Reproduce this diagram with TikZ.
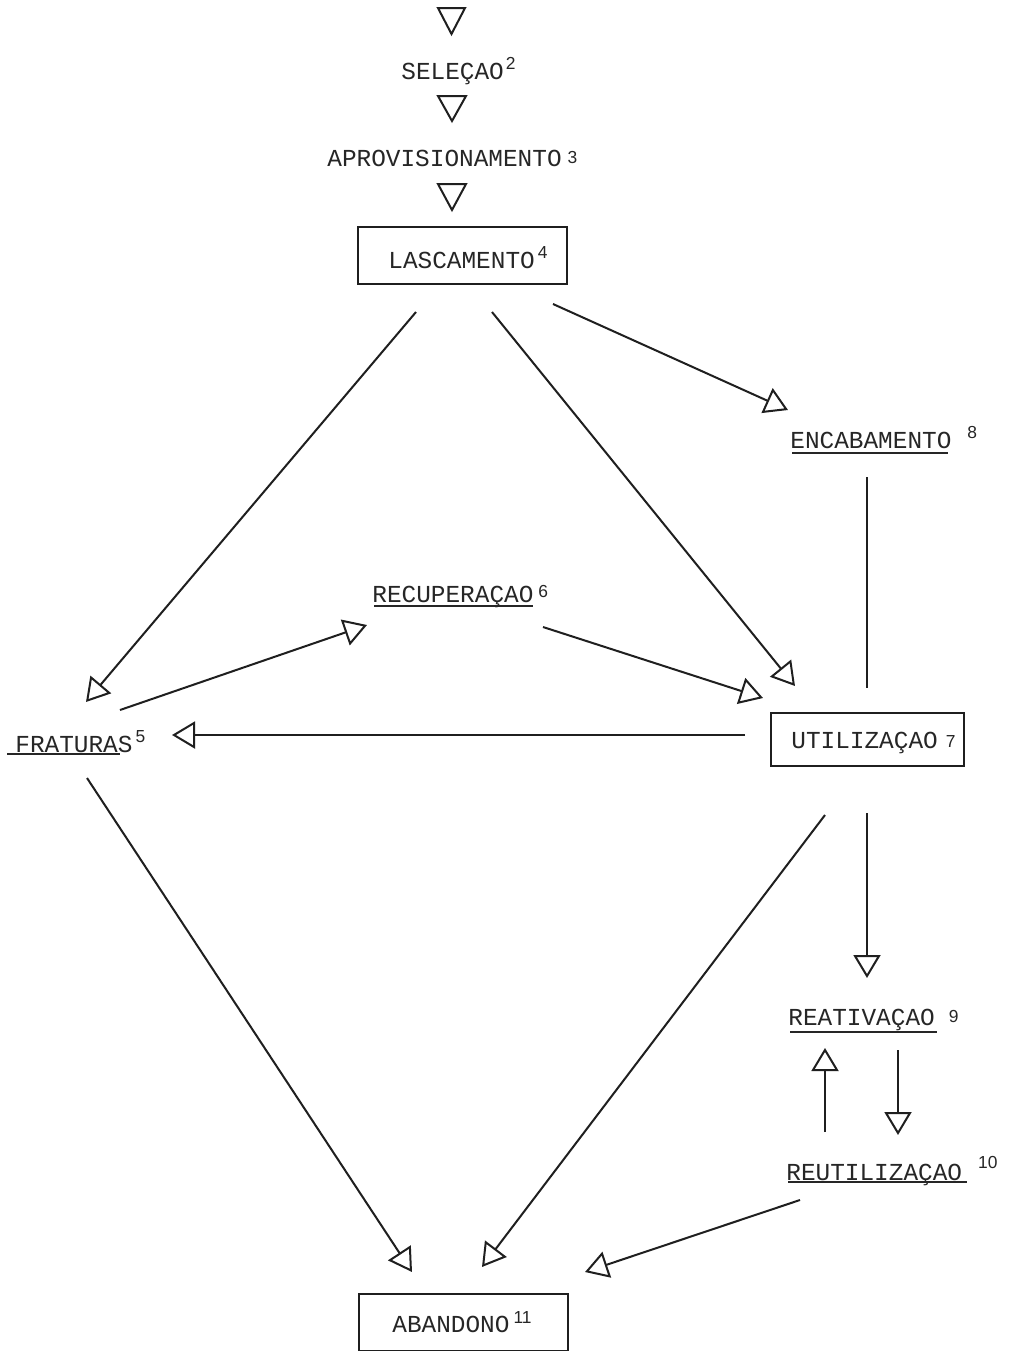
\documentclass[tikz,border=0pt]{standalone}
\usepackage{fontspec}
\setmonofont{Liberation Mono}
\newfontfamily\supfont{Liberation Sans}
\usetikzlibrary{arrows.meta,calc}
\newcommand\mysup[3]{\hspace*{#1pt}\raisebox{#2pt}{\supfont\fontsize{8.7}{9}\selectfont #3}}
\begin{document}
\begin{tikzpicture}[x=0.5pt,y=-0.5pt,
  ink/.style={draw=black!88,line width=1pt},
  lbl/.style={inner sep=0pt,anchor=base west,text=black!85,font=\ttfamily\fontsize{12.2}{14}\selectfont},
  boxn/.style={ink,rectangle,inner sep=0pt,anchor=north west},
  conn/.style={ink,-{Triangle[open,length=11.5pt,width=13.5pt,line width=1pt]}},
  plain/.style={ink},
  uline/.style={draw=black!85,line width=1.1pt},
  tri/.style={ink,line join=miter}]
\useasboundingbox[fill=white] (0,0) rectangle (1012,1351);

% shaftless triangles at top
\draw[tri] (438,8) -- (465,8) -- (451.5,34) -- cycle;
\draw[tri] (438,96) -- (466,96) -- (452,121) -- cycle;
\draw[tri] (438,184) -- (466,184) -- (452,210) -- cycle;

% boxes
\node[boxn,minimum width=104.5pt,minimum height=28.5pt] (lasbox) at (357,226) {};
\node[boxn,minimum width=96.5pt,minimum height=26.5pt] (utibox) at (770,712) {};
\node[boxn,minimum width=104.5pt,minimum height=28.5pt] (ababox) at (358,1293) {};

% labels
\node[lbl] (sel) at (401,79) {SELEÇAO\mysup{1}{5}{2}};
\node[lbl] (apr) at (327,166) {APROVISIONAMENTO\mysup{3}{1.5}{3}};
\node[lbl] (las) at (388,268) {LASCAMENTO\mysup{1.5}{5}{4}};
\node[lbl] (enc) at (790,448) {ENCABAMENTO\mysup{8}{5}{8}};
\node[lbl] (rec) at (372,602) {RECUPERAÇAO\mysup{2.5}{2.5}{6}};
\node[lbl] (fra) at (15,752) {FRATURAS\mysup{1.5}{5}{5}};
\node[lbl] (uti) at (791,748) {UTILIZAÇAO\mysup{4}{0.5}{7}};
\node[lbl] (rea) at (788,1025) {REATIVAÇAO\mysup{7}{1.5}{9}};
\node[lbl] (reu) at (786,1180) {REUTILIZAÇAO\mysup{8}{6}{10}};
\node[lbl] (aba) at (392,1332) {ABANDONO\mysup{2}{4.5}{11}};

% underlines
\draw[uline] ($(enc.base west)+(2,5)$) -- ++(156,0);
\draw[uline] ($(rec.base west)+(2,4)$) -- ++(159,0);
\draw[uline] ($(fra.base west)+(-8,2)$) -- ++(113,0);
\draw[uline] ($(rea.base west)+(2,7)$) -- ++(147,0);
\draw[uline] ($(reu.base west)+(2,2)$) -- ++(179,0);

% connector end points
\coordinate (lasA) at (416,312);
\coordinate (lasB) at (492,312);
\coordinate (lasC) at (553,304);
\coordinate (fraIn) at (86,702);
\coordinate (utiInA) at (795,686);
\coordinate (encIn) at (788,410);
\coordinate (encOut) at (867,477);
\coordinate (utiInV) at (867,688);
\coordinate (utiOutV) at (867,813);
\coordinate (reaIn) at (867,978);
\coordinate (fraOutR) at (120,710);
\coordinate (recIn) at (367,625);
\coordinate (utiOutL) at (745,735);
\coordinate (fraInR) at (172,735);
\coordinate (recOut) at (543,627);
\coordinate (utiInB) at (763,698);
\coordinate (fraOutD) at (87,778);
\coordinate (abaInL) at (412,1272);
\coordinate (utiOutD) at (825,815);
\coordinate (abaInM) at (482,1267);
\coordinate (reuOut) at (800,1200);
\coordinate (abaInR) at (585,1272);
\coordinate (reuUp) at (825,1132);
\coordinate (reaUpIn) at (825,1048);
\coordinate (reaDown) at (898,1050);
\coordinate (reuIn) at (898,1135);

% connectors
\draw[conn] (lasA) -- (fraIn);
\draw[conn] (lasB) -- (utiInA);
\draw[conn] (lasC) -- (encIn);
\draw[plain] (encOut) -- (utiInV);
\draw[conn] (utiOutV) -- (reaIn);
\draw[conn] (fraOutR) -- (recIn);
\draw[conn] (utiOutL) -- (fraInR);
\draw[conn] (recOut) -- (utiInB);
\draw[conn] (fraOutD) -- (abaInL);
\draw[conn] (utiOutD) -- (abaInM);
\draw[conn] (reuOut) -- (abaInR);
\draw[conn] (reuUp) -- (reaUpIn);
\draw[conn] (reaDown) -- (reuIn);
\end{tikzpicture}
\end{document}
